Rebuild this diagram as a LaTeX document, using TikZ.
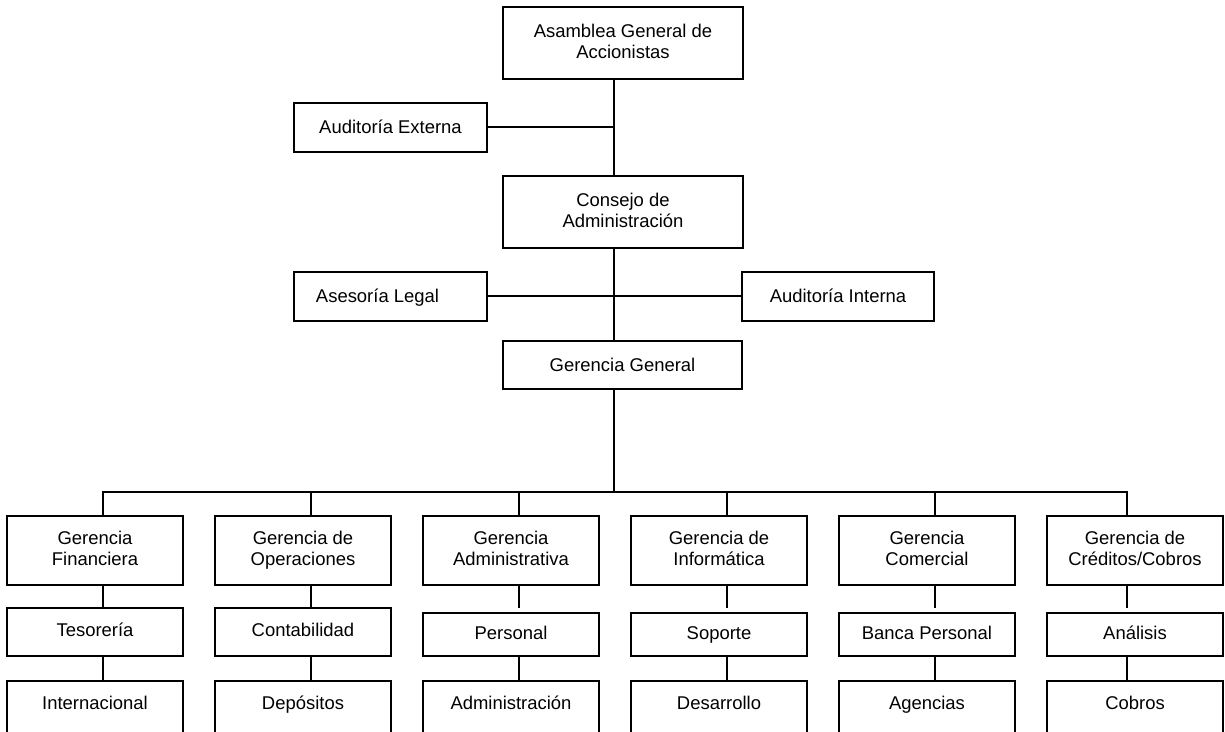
\documentclass[tikz,border=0pt]{standalone}
\usepackage{fontspec}
\setmainfont{Liberation Sans}

\begin{document}
\begin{tikzpicture}[x=0.02cm, y=-0.02cm, line width=0.04cm,
    box/.style={draw, align=center, inner sep=0pt, text depth=0.22em, font=\fontsize{10.5}{12}\selectfont},
    headbox/.style={box, minimum width=4.8cm, minimum height=1.44cm},
    staffbox/.style={box, minimum width=3.86cm, minimum height=0.98cm, text height=0.75em, text depth=0.05em},
    mgrbox/.style={box, minimum width=3.54cm, minimum height=1.38cm},
    unitbox/.style={box, minimum width=3.54cm, minimum height=0.86cm, text height=0.75em},
    leafbox/.style={box, anchor=north, minimum width=3.54cm, text height=0.56cm, text depth=1.6cm}]
    \useasboundingbox (0,0) rectangle (1225,731);
    \clip (0,0) rectangle (1225,731);

    % upper part
    \node[headbox] (asamblea) at (623,43) {Asamblea General de\\Accionistas};
    \node[staffbox] (externa) at (390.5,127) {Auditoría Externa};
    \node[headbox] (consejo) at (623,212) {Consejo de\\Administración};
    \node[staffbox] (legal) at (390.5,296) {Asesoría Legal\hspace*{0.52cm}};
    \node[staffbox] (interna) at (838,296) {Auditoría Interna};
    \node[headbox, minimum width=4.78cm, minimum height=0.96cm, text height=0.75em, text depth=0.05em] (general) at (622.5,365) {Gerencia General};

    \coordinate (spine) at (614,0);
    \coordinate (bus) at (0,492);
    \coordinate (gap) at (0,608);

    \draw (asamblea.south -| spine) -- (consejo.north -| spine);
    \draw (externa.east) -- (externa.east -| spine);
    \draw (consejo.south -| spine) -- (general.north -| spine);
    \draw (legal.east) -- (interna.west);
    \draw (general.south -| spine) -- (bus -| spine);

    % gerencias
    \node[mgrbox] (g1) at (95,550.5) {Gerencia\\Financiera};
    \node[mgrbox] (g2) at (303,550.5) {Gerencia de\\Operaciones};
    \node[mgrbox] (g3) at (511,550.5) {Gerencia\\Administrativa};
    \node[mgrbox] (g4) at (719,550.5) {Gerencia de\\Informática};
    \node[mgrbox] (g5) at (927,550.5) {Gerencia\\Comercial};
    \node[mgrbox] (g6) at (1135,550.5) {Gerencia de\\Créditos/Cobros};

    \node[unitbox, minimum height=0.96cm] (s1) at (95,632) {Tesorería};
    \node[unitbox, minimum height=0.96cm] (s2) at (303,632) {Contabilidad};
    \node[unitbox] (s3) at (511,634.5) {Personal};
    \node[unitbox] (s4) at (719,634.5) {Soporte};
    \node[unitbox] (s5) at (927,634.5) {Banca Personal};
    \node[unitbox] (s6) at (1135,634.5) {Análisis};

    \node[leafbox] (t1) at (95,680) {Internacional};
    \node[leafbox] (t2) at (303,680) {Depósitos};
    \node[leafbox] (t3) at (511,680) {Administración};
    \node[leafbox] (t4) at (719,680) {Desarrollo};
    \node[leafbox] (t5) at (927,680) {Agencias};
    \node[leafbox] (t6) at (1135,680) {Cobros};

    \foreach \i/\cx in {1/103, 2/311, 3/519, 4/727, 5/935, 6/1127}
        \coordinate (c\i) at (\cx,492);

    \draw (c1 |- g1.north) -- (c1) -- (c6) -- (c6 |- g6.north);
    \foreach \i in {2,...,5}
        \draw (c\i) -- (c\i |- g\i.north);
    \foreach \i in {1,...,6} {
        \draw (g\i.south -| c\i) -- (c\i |- gap);
        \draw (s\i.south -| c\i) -- (t\i.north -| c\i);
    }
\end{tikzpicture}
\end{document}
